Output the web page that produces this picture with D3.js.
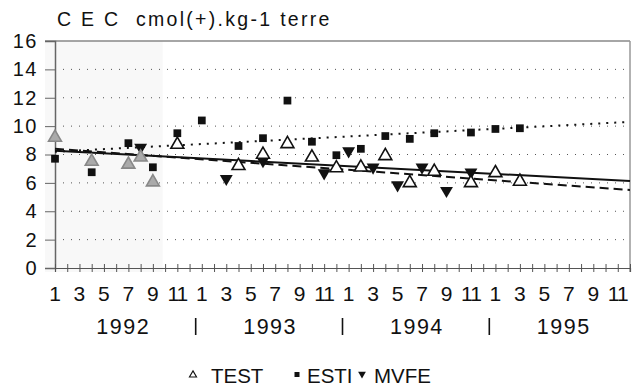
<!DOCTYPE html>
<html>
<head>
<meta charset="utf-8">
<script src="https://cdn.jsdelivr.net/npm/d3@7"></script>
<style>
  body { margin: 0; background: #fff; }
  text { font-family: "Liberation Sans", Arial, Helvetica, sans-serif; fill: #111; }
</style>
</head>
<body>
<div id="chart"></div>
<script>
// Data (month 1 = Jan 1992 ... 48 = Dec 1995)
const testMonths = [1, 4, 7, 8, 9, 11, 16, 18, 20, 22, 24, 26, 28, 30, 32, 35, 37, 39];
const testValues = [9.2, 7.5, 7.3, 7.8, 6.05, 8.7, 7.2, 8.0, 8.75, 7.8, 7.05, 7.1, 7.9, 6.0, 6.8, 6.0, 6.7, 6.1];

const estiMonths = [1, 4, 7, 9, 11, 13, 16, 18, 20, 22, 24, 26, 28, 30, 32, 35, 37, 39];
const estiValues = [7.7, 6.75, 8.8, 7.1, 9.5, 10.4, 8.6, 9.15, 11.8, 8.9, 7.95, 8.4, 9.3, 9.1, 9.5, 9.55, 9.8, 9.85];

const mvfeMonths = [8, 15, 18, 23, 25, 27, 29, 31, 33, 35];
const mvfeValues = [8.5, 6.3, 7.55, 6.7, 8.25, 7.1, 5.85, 7.1, 5.45, 6.75];

// trend lines (end points)
const trendMonths = [1, 48];
const trendSolid = [8.27, 6.13];
const trendDashed = [8.4, 5.5];
const trendDotted = [8.2, 10.3];

const yTicks = [0, 2, 4, 6, 8, 10, 12, 14, 16];
const monthLabels = ['1', '3', '5', '7', '9', '11'];
const years = ['1992', '1993', '1994', '1995'];
const title = 'C E C  cmol(+).kg-1 terre';

const W = 638, H = 386;
const svg = d3.select('#chart').append('svg')
    .attr('width', W)
    .attr('height', H);

const x = d3.scaleLinear().domain([1, 48]).range([55, 630]);
const y = d3.scaleLinear().domain([0, 16]).range([268, 41]);

// faint scan shading on the left
svg.append('rect')
    .attr('x', 45).attr('y', y(16))
    .attr('width', x(9.8) - 45).attr('height', y(0) - y(16) + 4)
    .attr('fill', '#f8f8f8');

// dotted gridlines
svg.append('g')
    .selectAll('line')
    .data(yTicks.filter(d => d > 0 && d < 16))
    .join('line')
    .attr('x1', x(1) + 8).attr('x2', x(48))
    .attr('y1', d => y(d)).attr('y2', d => y(d))
    .attr('stroke', '#555')
    .attr('stroke-width', 1)
    .attr('stroke-dasharray', '1,7');

// frame: top and right
svg.append('line')
    .attr('x1', 45).attr('x2', x(48))
    .attr('y1', y(16)).attr('y2', y(16))
    .attr('stroke', '#888').attr('stroke-width', 1.5);
svg.append('line')
    .attr('x1', x(48)).attr('x2', x(48))
    .attr('y1', y(16)).attr('y2', y(0) + 4)
    .attr('stroke', '#999').attr('stroke-width', 1.5);

// y axis
const yAxis = svg.append('g')
    .attr('transform', `translate(${x(1)},0)`)
    .call(d3.axisLeft(y).tickValues(yTicks).tickSize(10).tickPadding(7).tickFormat(d3.format('d')));
yAxis.select('.domain').attr('stroke', '#666').attr('stroke-width', 1.5);
yAxis.selectAll('.tick line').attr('stroke', '#666');
yAxis.selectAll('.tick text')
    .style('font-size', '20px')
    .style('letter-spacing', '1.5px')
    .attr('fill', '#111');

// x axis with crossing ticks
const xAxis = svg.append('g')
    .attr('transform', `translate(0,${y(0)})`)
    .call(d3.axisBottom(x).tickValues(d3.range(1, 49)).tickSize(4).tickFormat(''));
xAxis.select('.domain').attr('stroke', '#555').attr('stroke-width', 1.2);
xAxis.selectAll('.tick line').attr('y1', -4).attr('stroke', '#555');

// month labels
const monthPos = [];
years.forEach((yr, i) => monthLabels.forEach(m => monthPos.push({ m: +m + 12 * i, label: m })));
svg.append('g')
    .selectAll('text')
    .data(monthPos)
    .join('text')
    .attr('x', d => x(d.m))
    .attr('y', 301)
    .attr('text-anchor', 'middle')
    .style('font-size', '21px')
    .style('letter-spacing', d => d.label.length > 1 ? '-1px' : '0px')
    .text(d => d.label);

// year labels and separators
svg.append('g')
    .selectAll('text')
    .data(years)
    .join('text')
    .attr('x', (d, i) => x(6.5 + 12 * i) + 1)
    .attr('y', 334)
    .attr('text-anchor', 'middle')
    .style('font-size', '21.5px')
    .style('letter-spacing', '1.5px')
    .text(d => d);
svg.append('g')
    .selectAll('line')
    .data(years.slice(1))
    .join('line')
    .attr('x1', (d, i) => x(12.5 + 12 * i))
    .attr('x2', (d, i) => x(12.5 + 12 * i))
    .attr('y1', 318).attr('y2', 335)
    .attr('stroke', '#111').attr('stroke-width', 1.6);

// title
svg.append('text')
    .attr('x', 57)
    .attr('y', 26)
    .style('font-size', '19.5px')
    .style('letter-spacing', '2.3px')
    .style('white-space', 'pre')
    .text(title);

// trend lines
const line = d3.line()
    .x(d => x(d[0]))
    .y(d => y(d[1]));
svg.append('path')
    .datum(d3.zip(trendMonths, trendDotted))
    .attr('d', line)
    .attr('fill', 'none')
    .attr('stroke', '#111')
    .attr('stroke-width', 2)
    .attr('stroke-dasharray', '2,6');
svg.append('path')
    .datum(d3.zip(trendMonths, trendDashed))
    .attr('d', line)
    .attr('fill', 'none')
    .attr('stroke', '#111')
    .attr('stroke-width', 2)
    .attr('stroke-dasharray', '9,5');
svg.append('path')
    .datum(d3.zip(trendMonths, trendSolid))
    .attr('d', line)
    .attr('fill', 'none')
    .attr('stroke', '#111')
    .attr('stroke-width', 2);

// points
const triUp = d3.symbol().type(d3.symbolTriangle).size(72);
const square = d3.symbol().type(d3.symbolSquare).size(60);

svg.append('g')
    .selectAll('path')
    .data(d3.zip(estiMonths, estiValues))
    .join('path')
    .attr('transform', d => `translate(${x(d[0])},${y(d[1])})`)
    .attr('d', square)
    .attr('fill', '#111');

svg.append('g')
    .selectAll('path')
    .data(d3.zip(mvfeMonths, mvfeValues))
    .join('path')
    .attr('transform', d => `translate(${x(d[0])},${y(d[1])}) rotate(180)`)
    .attr('d', triUp)
    .attr('fill', '#111');

// TEST triangles (grey inside the shaded scan area)
svg.append('g')
    .selectAll('path')
    .data(d3.zip(testMonths, testValues))
    .join('path')
    .attr('transform', d => `translate(${x(d[0])},${y(d[1])})`)
    .attr('d', triUp)
    .attr('fill', d => d[0] <= 9 ? '#aaa' : '#fff')
    .attr('stroke', d => d[0] <= 9 ? '#888' : '#111')
    .attr('stroke-width', 1.6);

// legend
const legend = svg.append('g');
const legendItems = [
    { name: 'TEST', sx: 193, tx: 211 },
    { name: 'ESTI', sx: 297, tx: 307 },
    { name: 'MVFE', sx: 362, tx: 374 }
];
legend.append('path')
    .attr('transform', `translate(${legendItems[0].sx},375)`)
    .attr('d', d3.symbol().type(d3.symbolTriangle).size(22))
    .attr('fill', '#fff').attr('stroke', '#111').attr('stroke-width', 1.1);
legend.append('rect')
    .attr('x', legendItems[1].sx - 2.5).attr('y', 372)
    .attr('width', 5).attr('height', 5)
    .attr('fill', '#111');
legend.append('path')
    .attr('transform', `translate(${legendItems[2].sx},374) rotate(180)`)
    .attr('d', d3.symbol().type(d3.symbolTriangle).size(26))
    .attr('fill', '#111');
legend.selectAll('text')
    .data(legendItems)
    .join('text')
    .attr('x', d => d.tx)
    .attr('y', 383)
    .style('font-size', '20.5px')
    .text(d => d.name);
</script>
</body>
</html>
